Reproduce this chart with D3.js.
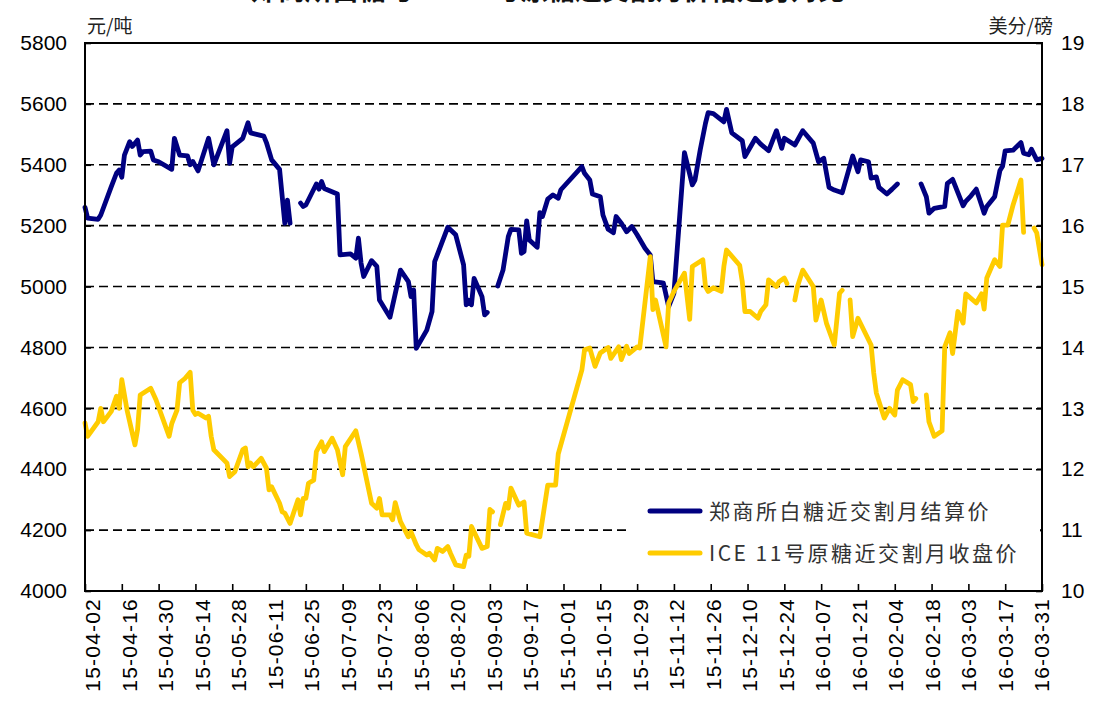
<!DOCTYPE html>
<html>
<head>
<meta charset="utf-8">
<script src="https://cdn.jsdelivr.net/npm/d3@7/dist/d3.min.js"></script>
<style>
body{margin:0;background:#fff;}
svg{display:block;}
</style>
</head>
<body>
<div id="chart"></div>
<script>
const width=1094;
const height=702;

// 郑商所白糖近交割月结算价 (元/吨), null = gap
const zceDates=["2015-04-02","2015-04-03","2015-04-07","2015-04-08","2015-04-12","2015-04-14","2015-04-15","2015-04-16","2015-04-17","2015-04-19","2015-04-20","2015-04-22","2015-04-23","2015-04-24","2015-04-27","2015-04-28","2015-04-30",
"2015-05-05","2015-05-06","2015-05-08","2015-05-11","2015-05-12","2015-05-13","2015-05-15","2015-05-19","2015-05-21","2015-05-26","2015-05-27","2015-05-28",
"2015-06-01","2015-06-03","2015-06-04","2015-06-09","2015-06-10","2015-06-12","2015-06-15","2015-06-17","2015-06-18","2015-06-19","2015-06-21","2015-06-23","2015-06-24","2015-06-25","2015-06-29","2015-06-30",
"2015-07-01","2015-07-02","2015-07-07","2015-07-08","2015-07-12","2015-07-14","2015-07-15","2015-07-16","2015-07-17","2015-07-20","2015-07-22","2015-07-23","2015-07-27","2015-07-31",
"2015-08-03","2015-08-04","2015-08-05","2015-08-06","2015-08-10","2015-08-12","2015-08-13","2015-08-18","2015-08-21","2015-08-24","2015-08-25","2015-08-26","2015-08-27","2015-08-28","2015-08-31",
"2015-09-01","2015-09-02","2015-09-04","2015-09-06","2015-09-08","2015-09-10","2015-09-11","2015-09-14","2015-09-15","2015-09-16","2015-09-17","2015-09-18","2015-09-21","2015-09-22","2015-09-23","2015-09-25","2015-09-27","2015-09-29","2015-09-30",
"2015-10-08","2015-10-09","2015-10-11","2015-10-12","2015-10-15","2015-10-16","2015-10-18","2015-10-20","2015-10-21","2015-10-23","2015-10-25","2015-10-27","2015-10-29",
"2015-11-01","2015-11-03","2015-11-04","2015-11-07","2015-11-08","2015-11-10","2015-11-12","2015-11-16","2015-11-19","2015-11-20","2015-11-22","2015-11-24","2015-11-25","2015-11-27",
"2015-12-01","2015-12-02","2015-12-04","2015-12-08","2015-12-09","2015-12-13","2015-12-15","2015-12-18","2015-12-21","2015-12-23","2015-12-24","2015-12-28","2015-12-31",
"2016-01-04","2016-01-06","2016-01-08","2016-01-10","2016-01-12","2016-01-15","2016-01-19","2016-01-21","2016-01-22","2016-01-25","2016-01-26","2016-01-28","2016-01-29",
"2016-02-01","2016-02-03","2016-02-05","2016-02-08","2016-02-14","2016-02-16","2016-02-17","2016-02-19","2016-02-23","2016-02-24","2016-02-26",
"2016-03-01","2016-03-02","2016-03-04","2016-03-06","2016-03-08","2016-03-09","2016-03-10","2016-03-13","2016-03-15","2016-03-16","2016-03-17","2016-03-20","2016-03-23","2016-03-24","2016-03-26","2016-03-27","2016-03-29","2016-03-31"];
const zceValues=[5260,5225,5221,5235,5328,5373,5383,5359,5432,5476,5460,5481,5432,5443,5445,5416,5410,
5385,5487,5432,5429,5400,5411,5380,5487,5400,5512,5405,5459,
5487,5538,5505,5494,5473,5416,5385,5208,5284,5208,null,5274,5263,5268,5337,5320,
5345,5322,5304,5104,5107,5093,5159,5077,5033,5085,5066,4956,4899,5054,
5016,4967,4989,4797,4857,4918,5082,5195,5170,5071,4940,4955,4940,5027,4967,
4907,4915,null,5002,5054,5164,5188,5186,5109,5115,5216,5153,5129,5243,5230,5287,5301,5290,5318,
5394,5372,5350,5304,5295,5235,5188,5177,5230,5208,5180,5197,5170,
5126,5104,5016,5013,5011,4934,4978,5440,5334,5350,5449,5536,5571,5568,
5541,5582,5505,5479,5427,5487,5468,5446,5512,5454,5487,5465,5512,
5471,5410,5421,5326,5317,5308,5429,5377,5416,5410,5356,5360,5326,
5304,5320,5337,null,5337,5295,5241,5257,5263,5339,5352,
5265,5280,5298,5320,5268,5241,5263,5295,5381,5395,5446,5448,5473,5438,5433,5451,5416,5421];

// ICE 11号原糖近交割月收盘价 (美分/磅), null = gap
const iceDates=["2015-04-02","2015-04-03","2015-04-07","2015-04-08","2015-04-09","2015-04-12","2015-04-14","2015-04-15","2015-04-16","2015-04-18","2015-04-21","2015-04-22","2015-04-23","2015-04-27","2015-04-29",
"2015-05-04","2015-05-05","2015-05-07","2015-05-08","2015-05-10","2015-05-12","2015-05-13","2015-05-14","2015-05-15","2015-05-18","2015-05-19","2015-05-20","2015-05-21","2015-05-26","2015-05-27","2015-05-29",
"2015-06-01","2015-06-02","2015-06-03","2015-06-04","2015-06-05","2015-06-08","2015-06-10","2015-06-11","2015-06-12","2015-06-15","2015-06-16","2015-06-17","2015-06-19","2015-06-22","2015-06-23","2015-06-24","2015-06-25","2015-06-26","2015-06-28","2015-06-29",
"2015-07-01","2015-07-02","2015-07-05","2015-07-07","2015-07-09","2015-07-10","2015-07-14","2015-07-16","2015-07-20","2015-07-22","2015-07-23","2015-07-24","2015-07-27","2015-07-28","2015-07-29","2015-07-31",
"2015-08-03","2015-08-04","2015-08-06","2015-08-07","2015-08-10","2015-08-11","2015-08-13","2015-08-14","2015-08-16","2015-08-18","2015-08-19","2015-08-21","2015-08-24","2015-08-25","2015-08-26","2015-08-27","2015-08-31",
"2015-09-02","2015-09-03","2015-09-04","2015-09-05","2015-09-07","2015-09-09","2015-09-10","2015-09-11","2015-09-14","2015-09-16","2015-09-17","2015-09-22","2015-09-25","2015-09-28","2015-09-29",
"2015-10-08","2015-10-09","2015-10-11","2015-10-13","2015-10-15","2015-10-18","2015-10-19","2015-10-22","2015-10-23","2015-10-25","2015-10-26","2015-10-29","2015-10-30",
"2015-11-03","2015-11-04","2015-11-05","2015-11-09","2015-11-10","2015-11-12","2015-11-16","2015-11-18","2015-11-19","2015-11-23","2015-11-24","2015-11-25","2015-11-27","2015-11-30",
"2015-12-01","2015-12-02","2015-12-07","2015-12-08","2015-12-09","2015-12-11","2015-12-14","2015-12-15","2015-12-17","2015-12-18","2015-12-21","2015-12-22","2015-12-24","2015-12-25","2015-12-26","2015-12-28","2015-12-29","2015-12-31",
"2016-01-04","2016-01-05","2016-01-07","2016-01-09","2016-01-12","2016-01-14","2016-01-15","2016-01-17","2016-01-18","2016-01-19","2016-01-21","2016-01-26","2016-01-27","2016-01-28","2016-01-31",
"2016-02-02","2016-02-04","2016-02-05","2016-02-07","2016-02-10","2016-02-11","2016-02-12","2016-02-14","2016-02-16","2016-02-17","2016-02-19","2016-02-22","2016-02-23","2016-02-25","2016-02-26","2016-02-28",
"2016-03-01","2016-03-02","2016-03-06","2016-03-08","2016-03-09","2016-03-10","2016-03-13","2016-03-15","2016-03-16","2016-03-18","2016-03-20","2016-03-23","2016-03-24","2016-03-26","2016-03-28","2016-03-29","2016-03-31"];
const iceValues=[12.76,12.54,12.78,13.00,12.78,12.95,13.20,13.00,13.47,12.97,12.40,12.65,13.22,13.33,13.14,
12.54,12.75,12.97,13.42,13.49,13.59,12.97,12.90,12.92,12.84,12.87,12.54,12.32,12.10,11.88,11.96,
12.32,12.35,12.04,12.10,12.04,12.18,12.02,11.66,11.71,11.44,11.30,11.28,11.11,11.50,11.25,11.52,11.52,11.77,11.82,12.29,
12.45,12.29,12.51,12.32,11.91,12.37,12.63,12.26,11.44,11.36,11.52,11.25,11.25,11.17,11.45,11.14,
10.89,10.97,10.76,10.68,10.59,10.62,10.51,10.70,10.65,10.73,10.62,10.43,10.40,10.59,10.57,11.06,10.70,
10.73,11.34,11.30,null,11.09,11.44,11.36,11.69,11.41,11.46,10.95,10.89,11.74,11.74,12.25,
13.63,13.96,13.99,13.69,13.91,14.00,13.82,14.01,13.80,14.02,13.90,14.01,13.99,
15.49,14.62,14.78,14.01,14.73,14.92,15.22,14.46,15.33,15.44,15.00,14.92,14.98,14.92,
15.33,15.60,15.35,15.08,14.59,14.59,14.48,14.59,14.70,15.11,15.00,15.08,15.14,15.05,null,14.78,15.00,15.27,
15.00,14.45,14.78,14.40,14.04,14.89,14.94,null,14.78,14.18,14.48,14.04,13.58,13.25,12.84,
13.00,12.89,13.30,13.47,13.39,13.11,13.16,null,13.22,12.78,12.54,12.63,14.01,14.24,13.90,14.59,
14.40,14.88,14.73,14.88,14.63,15.14,15.44,15.33,16.01,16.01,16.34,16.75,15.89,null,15.96,15.88,15.36];

const leftTicks=[4000,4200,4400,4600,4800,5000,5200,5400,5600,5800];
const rightTicks=[10,11,12,13,14,15,16,17,18,19];
const seriesNames=["郑商所白糖近交割月结算价","ICE 11号原糖近交割月收盘价"];
const seriesColors=["#000080","#FFCC00"];
const axisStart="2015-04-02", axisEnd="2016-03-31";
const titleText="郑商所白糖与ICE 11号原糖近交割月价格走势对比";

const plot={left:85,right:1042,top:43,bottom:591};
const parse=d3.utcParse("%Y-%m-%d");
const fmt=d3.utcFormat("%y-%m-%d");

const svg=d3.select("#chart")
  .append("svg")
  .attr("width",width)
  .attr("height",height)
  .style("font-family","'Liberation Sans',Arial,sans-serif");

const x=d3.scaleUtc()
  .domain([parse(axisStart),parse(axisEnd)])
  .range([plot.left,plot.right]);
const yL=d3.scaleLinear().domain([4000,5800]).range([plot.bottom,plot.top]);
const yR=d3.scaleLinear().domain([10,19]).range([plot.bottom,plot.top]);

//title (cut off at the top edge, as in the source picture)
svg.append("text")
  .attr("x",548).attr("y",0)
  .attr("text-anchor","middle")
  .style("font-family","'Noto Sans CJK SC',sans-serif")
  .style("font-size","27px")
  .style("font-weight","bold")
  .attr("fill","#111")
  .text(titleText);

//dashed gridlines
svg.append("g")
  .selectAll("line")
  .data(leftTicks.filter(v=>v>4000&&v<5800))
  .enter()
  .append("line")
  .attr("x1",plot.left).attr("x2",plot.right)
  .attr("y1",d=>yL(d)).attr("y2",d=>yL(d))
  .attr("stroke","#000")
  .attr("stroke-width",1.6)
  .attr("stroke-dasharray","9,5");

//x ticks every 14 days
const xTicks=d3.utcDay.range(parse(axisStart),d3.utcDay.offset(parse(axisEnd),1),14);
const xAxis=d3.axisBottom(x).tickValues(xTicks).tickSize(-7).tickFormat("");
svg.append("g")
  .attr("transform",`translate(0,${plot.bottom})`)
  .call(xAxis)
  .call(g=>g.select(".domain").remove())
  .selectAll("line").attr("stroke","#000").attr("stroke-width",1.6);

//rotated date labels, spacing a bit tighter than the ticks
svg.append("g")
  .selectAll("text")
  .data(xTicks)
  .enter()
  .append("text")
  .attr("transform",(d,i)=>`translate(${x(d)+15-8*i/(xTicks.length-1)},598) rotate(-90)`)
  .attr("text-anchor","end")
  .style("font-size","21px")
  .style("letter-spacing","1.2px")
  .attr("fill","#000")
  .text(d=>fmt(d));

//left axis
const leftAxis=d3.axisLeft(yL).tickValues(leftTicks).tickSize(-6).tickPadding(18).tickFormat(d3.format("d"));
svg.append("g")
  .attr("transform",`translate(${plot.left},0)`)
  .call(leftAxis)
  .call(g=>g.select(".domain").remove())
  .call(g=>g.selectAll("line").attr("stroke","#000").attr("stroke-width",1.6))
  .call(g=>g.selectAll("text").style("font-size","21px").attr("fill","#000").attr("font-family",null));

//right axis
const rightAxis=d3.axisRight(yR).tickValues(rightTicks).tickSize(-6).tickPadding(19);
svg.append("g")
  .attr("transform",`translate(${plot.right},0)`)
  .call(rightAxis)
  .call(g=>g.select(".domain").remove())
  .call(g=>g.selectAll("line").attr("stroke","#000").attr("stroke-width",1.6))
  .call(g=>g.selectAll("text").style("font-size","21px").attr("fill","#000").attr("font-family",null));

//unit labels
svg.append("text").attr("x",87).attr("y",33)
  .style("font-family","'Noto Sans CJK SC',sans-serif").style("font-size","19px").attr("fill","#222")
  .text("元/吨");
svg.append("text").attr("x",1053).attr("y",33).attr("text-anchor","end")
  .style("font-family","'Noto Sans CJK SC',sans-serif").style("font-size","19px").attr("fill","#222")
  .text("美分/磅");

//legend background covers the gridline
svg.append("rect")
  .attr("x",630).attr("y",488).attr("width",410).attr("height",88)
  .attr("fill","#fff");

//series lines
const zceData=zceDates.map((d,i)=>({date:parse(d),v:zceValues[i]}));
const iceData=iceDates.map((d,i)=>({date:parse(d),v:iceValues[i]}));

const zceLine=d3.line().defined(d=>d.v!==null).x(d=>x(d.date)).y(d=>yL(d.v));
const iceLine=d3.line().defined(d=>d.v!==null).x(d=>x(d.date)).y(d=>yR(d.v));

svg.append("path")
  .datum(zceData)
  .attr("d",zceLine)
  .attr("fill","none")
  .attr("stroke",seriesColors[0])
  .attr("stroke-width",4.8)
  .attr("stroke-linejoin","round")
  .attr("stroke-linecap","round");

svg.append("path")
  .datum(iceData)
  .attr("d",iceLine)
  .attr("fill","none")
  .attr("stroke",seriesColors[1])
  .attr("stroke-width",4.8)
  .attr("stroke-linejoin","round")
  .attr("stroke-linecap","round");

//plot frame
svg.append("rect")
  .attr("x",plot.left).attr("y",plot.top)
  .attr("width",plot.right-plot.left).attr("height",plot.bottom-plot.top)
  .attr("fill","none")
  .attr("stroke","#000")
  .attr("stroke-width",2);

//legend
const legend=svg.append("g")
  .selectAll("g")
  .data(seriesNames)
  .enter()
  .append("g")
  .attr("transform",(d,i)=>`translate(650,${511+i*42})`);
legend.append("line")
  .attr("x1",0).attr("x2",50)
  .attr("stroke",(d,i)=>seriesColors[i])
  .attr("stroke-width",5)
  .attr("stroke-linecap","round");
legend.append("text")
  .attr("x",59).attr("y",8)
  .style("font-family","'Noto Sans CJK SC',sans-serif")
  .style("font-size","21px")
  .style("letter-spacing","2.5px")
  .attr("fill","#333")
  .text(d=>d);
</script>
</body>
</html>
